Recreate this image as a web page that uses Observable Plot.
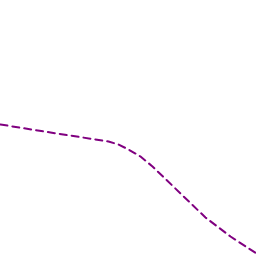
<!DOCTYPE html>
<html>
<head>
<meta charset="utf-8">
<script src="https://cdn.jsdelivr.net/npm/d3@7"></script>
<script src="https://cdn.jsdelivr.net/npm/@observablehq/plot@0.6"></script>
<style>html,body{margin:0;padding:0;background:#fff;overflow:hidden}</style>
</head>
<body>
<div id="chart"></div>
<script>
const xs = [0, 50, 108, 118, 128, 140, 152, 205, 230, 256];
const ys = [132, 124, 115, 112, 107, 100, 90, 39, 20, 3];
const data = xs.map((x, i) => ({x, y: ys[i]}));
const chart = Plot.plot({
  width: 256,
  height: 256,
  margin: 0,
  x: {domain: [0, 256], axis: null},
  y: {domain: [0, 256], axis: null},
  marks: [
    Plot.line(data, {x: "x", y: "y", stroke: "#800080", strokeWidth: 2, strokeDasharray: "7,5", curve: "linear"})
  ]
});
document.getElementById("chart").appendChild(chart);
</script>
</body>
</html>
